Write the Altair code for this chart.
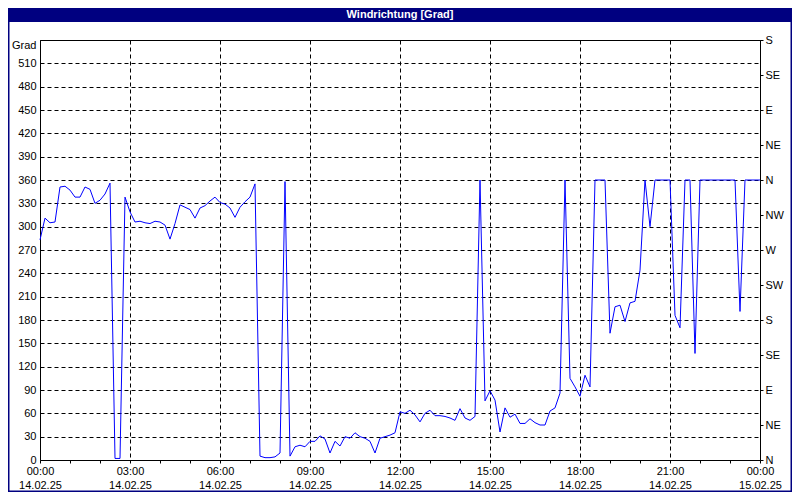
import json
import altair as alt
import pandas as pd

# ---------------- data ----------------
times = pd.date_range("2025-02-14 00:00", "2025-02-15 00:00", freq="10min")

direction = [
    283, 311, 305, 306, 351, 352, 347, 338, 338, 351,
    348, 330, 334, 342, 356, 2, 2, 338, 319, 306,
    307, 305, 304, 307, 306, 302, 284, 304, 328, 325,
    322, 311, 324, 327, 333, 338, 331, 329, 324, 312,
    325, 332, 338, 355, 5, 3, 3, 4, 9, 358,
    5, 17, 19, 17, 24, 24, 31, 27, 9, 24,
    18, 30, 28, 35, 30, 28, 24, 9, 28, 30,
    32, 35, 62, 60, 64, 58, 49, 60, 64, 57,
    57, 56, 54, 51, 66, 54, 51, 56, 360, 76,
    89, 77, 36, 67, 55, 59, 47, 47, 53, 48,
    45, 45, 63, 67, 86, 360, 105, 94, 82, 109,
    94, 360, 360, 360, 163, 197, 199, 178, 202, 204,
    244, 360, 300, 360, 360, 360, 360, 186, 170, 360,
    360, 137, 360, 360, 360, 360, 360, 360, 360, 360,
    191, 360, 360, 360, 360,
]

y_ticks = list(range(0, 541, 30))
compass_values = list(range(0, 541, 45))
compass_labels = ["N", "NE", "E", "SE", "S", "SW", "W", "NW", "N", "NE", "E", "SE", "S"]
x_hour_ticks = list(range(0, 25))
x_time_labels = ["00:00", "03:00", "06:00", "09:00", "12:00", "15:00", "18:00", "21:00", "00:00"]
x_date_labels = ["14.02.25"] * 8 + ["15.02.25"]
title_text = "Windrichtung [Grad]"
y_unit = "Grad"

hours = [(t - times[0]).total_seconds() / 3600 for t in times]
df = pd.DataFrame({"hour": hours, "deg": direction})

W, H = 720, 420
NAVY = "#000080"
FONT = "Liberation Sans"

x_label_expr = (
    f"datum.value % 3 == 0 ? [{json.dumps(x_time_labels)}[round(datum.value/3)], "
    f"{json.dumps(x_date_labels)}[round(datum.value/3)]] : ''"
)
compass_expr = f"{json.dumps(compass_labels)}[round(datum.value/45)]"

x_scale = alt.Scale(domain=[0, 24], nice=False, zero=False)
y_scale = alt.Scale(domain=[0, 540], nice=False)

x_axis = alt.Axis(
    values=x_hour_ticks,
    labelExpr=x_label_expr,
    labelOverlap=False,
    labelFlush=False,
    labelLineHeight=14,
    labelPadding=2,
    tickSize=3,
    tickColor="black",
    domain=False,
    grid=True,
    gridDash=[4, 3],
    gridColor="black",
    gridOpacity={"condition": {"test": "datum.value % 3 == 0", "value": 1}, "value": 0},
    title=None,
    orient="bottom",
)

y_axis_left = alt.Axis(
    values=y_ticks,
    labelExpr=f"datum.value == 540 ? '{y_unit}' : datum.label",
    labelOffset={"condition": {"test": "datum.value == 540", "value": 5}, "value": 0},
    ticks=False,
    tickSize=0,
    labelPadding=4,
    domain=False,
    grid=True,
    gridDash=[4, 3],
    gridColor="black",
    gridOpacity=1,
    title=None,
    orient="left",
)

y_axis_right = alt.Axis(
    values=compass_values,
    labelExpr=compass_expr,
    tickSize=3,
    tickColor="black",
    labelPadding=2,
    domain=True,
    domainColor="black",
    grid=False,
    title=None,
    orient="right",
)

line = alt.Chart(df).mark_line(color="#0000FF", strokeWidth=1).encode(
    x=alt.X("hour:Q", scale=x_scale, axis=x_axis),
    y=alt.Y("deg:Q", scale=y_scale, axis=y_axis_left),
)

right = alt.Chart(df).mark_line(strokeOpacity=0).encode(
    x=alt.X("hour:Q", scale=x_scale, axis=x_axis),
    y=alt.Y("deg:Q", scale=y_scale, axis=y_axis_right),
)

one = pd.DataFrame({"t": [title_text]})

bar = alt.Chart(one).mark_rect(color=NAVY).encode(
    x=alt.value(-32), x2=alt.value(W + 32), y=alt.value(-32), y2=alt.value(-18)
)
title = alt.Chart(one).mark_text(
    color="white", font=FONT, fontSize=11, fontWeight="bold", baseline="middle", align="center"
).encode(x=alt.value(W / 2), y=alt.value(-25), text="t:N")
frame = alt.Chart(one).mark_rect(filled=False, stroke=NAVY, strokeWidth=1.5).encode(
    x=alt.value(-31.25), x2=alt.value(W + 31.25), y=alt.value(-31.25), y2=alt.value(H + 31.25)
)

chart = (
    alt.layer(line, right, bar, title, frame)
    .resolve_scale(y="shared")
    .resolve_axis(y="independent")
    .properties(
        width=W,
        height=H,
        autosize=alt.AutoSizeParams(type="none"),
        padding={"left": 32, "top": 32, "right": 32, "bottom": 32},
        background="white",
    )
    .configure_view(stroke="black", strokeWidth=1, fill="white")
    .configure_axis(labelFont=FONT, labelFontSize=11, labelColor="black")
)

chart.save("out.html", embed_options={"renderer": "svg", "actions": False})
